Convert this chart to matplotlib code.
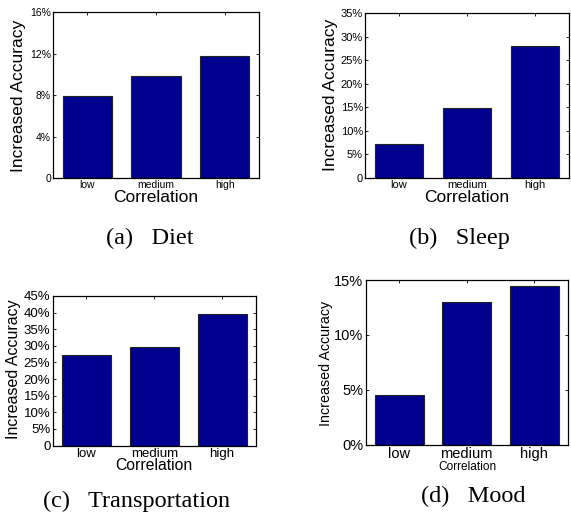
import matplotlib
matplotlib.use("Agg")
import matplotlib.pyplot as plt

W, H = 571, 516

categories = ["low", "medium", "high"]
diet = [7.9, 9.9, 11.8]
sleep = [7.2, 14.9, 28.0]
transport = [27.3, 29.6, 39.5]
mood = [4.5, 13.0, 14.45]

diet_ticks = [0, 4, 8, 12, 16]
diet_ticklabels = ["0", "4%", "8%", "12%", "16%"]
sleep_ticks = [0, 5, 10, 15, 20, 25, 30, 35]
sleep_ticklabels = ["0", "5%", "10%", "15%", "20%", "25%", "30%", "35%"]
transport_ticks = [0, 5, 10, 15, 20, 25, 30, 35, 40, 45]
transport_ticklabels = ["0", "5%", "10%", "15%", "20%", "25%", "30%", "35%", "40%", "45%"]
mood_ticks = [0, 5, 10, 15]
mood_ticklabels = ["0%", "5%", "10%", "15%"]

captions = ["(a)   Diet", "(b)   Sleep", "(c)   Transportation", "(d)   Mood"]

BAR = "#00008f"
SANS = "Liberation Sans"
SERIF = "Liberation Serif"

fig = plt.figure(figsize=(W / 100, H / 100), dpi=100)


def fx(px):
    return px / W


def fy(py):
    return 1 - py / H


def make_axes(left, right, top, bottom):
    return fig.add_axes([fx(left), fy(bottom), fx(right - left), (bottom - top) / H])


panels = [
    dict(rect=(53, 259, 12.5, 178), vals=diet, ticks=diet_ticks, tl=diet_ticklabels,
         tfs=7.5, yl=(18.5, 96, 12.5), xl=(156, 198, 12.5), cap=(149.5, 238)),
    dict(rect=(365, 569, 13, 178), vals=sleep, ticks=sleep_ticks, tl=sleep_ticklabels,
         tfs=8, yl=(330, 95, 12.5), xl=(467, 198, 12.5), cap=(459, 238)),
    dict(rect=(52.5, 256, 296, 445.5), vals=transport, ticks=transport_ticks, tl=transport_ticklabels,
         tfs=9.5, yl=(14, 369, 11.5), xl=(154, 466, 11.3), cap=(137, 501)),
    dict(rect=(365.5, 568, 280, 444.7), vals=mood, ticks=mood_ticks, tl=mood_ticklabels,
         tfs=10.5, yl=(326, 363, 10.3), xl=(467, 467.5, 8.6), cap=(473, 496)),
]

for i, p in enumerate(panels):
    l, r, t, b = p["rect"]
    ax = make_axes(l, r, t, b)
    x = list(range(1, len(categories) + 1))
    ax.bar(x, p["vals"], width=0.72, color=BAR, edgecolor="#222222", linewidth=0.8, zorder=2)
    ax.set_xlim(0.5, 3.5)
    ax.set_ylim(p["ticks"][0], p["ticks"][-1])
    ax.set_xticks(x)
    ax.set_xticklabels(categories, fontsize=p["tfs"], fontfamily=SANS)
    ax.set_yticks(p["ticks"])
    ax.set_yticklabels(p["tl"], fontsize=p["tfs"], fontfamily=SANS)
    ax.tick_params(direction="in", length=2.5, width=0.6, top=True, right=True, pad=1.5)
    for s in ax.spines.values():
        s.set_linewidth(0.9)
    xl, yl, fs = p["yl"]
    fig.text(fx(xl), fy(yl), "Increased Accuracy", rotation=90, ha="center", va="center",
             fontsize=fs, fontfamily=SANS)
    xx, yy, fs2 = p["xl"]
    fig.text(fx(xx), fy(yy), "Correlation", ha="center", va="center", fontsize=fs2, fontfamily=SANS)
    cx, cy = p["cap"]
    fig.text(fx(cx), fy(cy), captions[i], ha="center", va="center", fontsize=17.5, fontfamily=SERIF)

fig.savefig("out.png", dpi=100)
